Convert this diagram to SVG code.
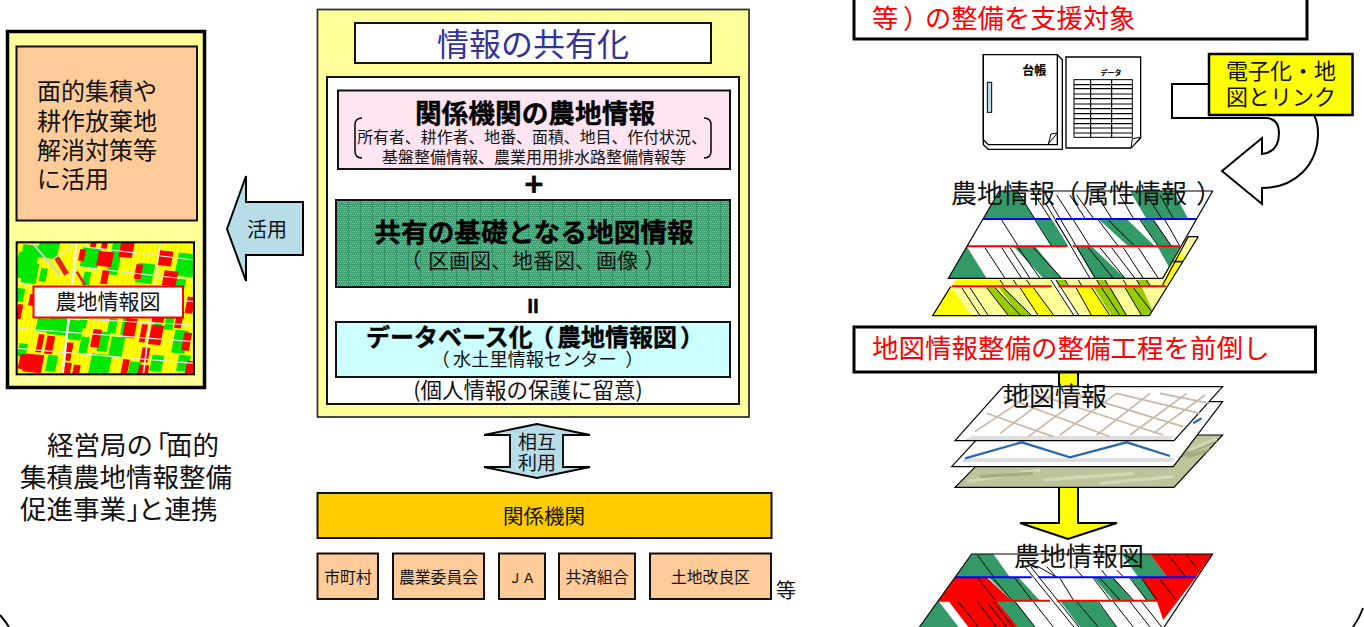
<svg xmlns="http://www.w3.org/2000/svg" width="1364" height="627" viewBox="0 0 1364 627">
<style>
text{font-family:"Noto Sans CJK JP","Noto Sans",sans-serif;fill:#111}
.b{font-weight:700;fill:#000;stroke:#000;stroke-width:.35}
.m{text-anchor:middle}
.p{font-feature-settings:"palt"}
.red{fill:#f00}
.box{stroke:#111;stroke-width:2}
.peach{fill:#FFCC99}
.ln{fill:none;stroke:#000;stroke-width:3}
.wh{fill:#fff;stroke:#000}
.dg{fill:#339966}.yl{fill:#ffff00}.ly{fill:#ffff99}.og{fill:#99cc00}.rd{fill:#f00}
.field rect{transform-box:fill-box;transform-origin:center;transform:skewY(6deg) skewX(-11deg)}
.f-r{fill:#f00;stroke:#f00;stroke-width:5}.f-g{fill:#00e800;stroke:#00e800;stroke-width:10}
.grid{fill:none;stroke:#c9b8a6;stroke-width:5}
.st{stroke:#000;stroke-width:3;fill:none}
</style>
<defs>
<pattern id="mesh" width="12" height="12" patternUnits="userSpaceOnUse">
<rect width="12" height="12" fill="#3f9f72"/>
<path d="M1 1h1v1h-1zM3 1h1v1h-1zM5 1h1v1h-1zM7 1h1v1h-1zM9 1h1v1h-1zM11 1h1v1h-1zM2 3h1v1h-1zM4 3h1v1h-1zM6 3h1v1h-1zM8 3h1v1h-1zM10 3h1v1h-1zM1 5h1v1h-1zM3 5h1v1h-1zM5 5h1v1h-1zM7 5h1v1h-1zM9 5h1v1h-1zM11 5h1v1h-1zM2 7h1v1h-1zM4 7h1v1h-1zM6 7h1v1h-1zM8 7h1v1h-1zM10 7h1v1h-1zM1 9h1v1h-1zM3 9h1v1h-1zM5 9h1v1h-1zM7 9h1v1h-1zM9 9h1v1h-1zM11 9h1v1h-1zM2 11h1v1h-1zM4 11h1v1h-1zM6 11h1v1h-1zM8 11h1v1h-1zM10 11h1v1h-1z" fill="#86c2a2"/>
<path d="M0 0h12M0 0v12" stroke="#2b8a5a" stroke-width="1"/>
</pattern>
<pattern id="parcels" width="14" height="50" patternUnits="userSpaceOnUse" patternTransform="skewX(-11)">
<path d="M0 0v50" stroke="#c9c000" stroke-width="1.500"/>
</pattern>
<filter id="soft" x="0" y="0" width="1" height="1"><feGaussianBlur stdDeviation="1.800"/></filter>
<clipPath id="mapClip"><rect x="20" y="22" width="532" height="396"/></clipPath>
<clipPath id="attrClip"><polygon points="238,48 878,48 728,310 85,310"/></clipPath>
<clipPath id="yelClip"><polygon points="190,185 835,185 688,422 38,422"/></clipPath>
<clipPath id="finalClip"><polygon points="215,552 938,552 780,790 45,790"/></clipPath>
<clipPath id="photoClip"><polygon points="320,195 968,195 822,352 165,352"/></clipPath>
</defs>

<g id="frame"><path class="ln" d="M0 615Q5 621 9 627M1363 608Q1359 619 1353 627" style="stroke-width:2"/></g>

<g id="left-panel">
<rect x="7.500" y="31.500" width="197" height="356" fill="#FFFF99" stroke="#000" stroke-width="3.500"/>
<rect x="16.500" y="46.500" width="180.500" height="174" class="peach box"/>
<text font-size="24"><tspan x="37" y="100">面的集積や</tspan><tspan x="37" y="129.500">耕作放棄地</tspan><tspan x="37" y="158.500">解消対策等</tspan><tspan x="37" y="187.500">に活用</tspan></text>
</g>

<g id="farm-map">
<rect x="16.500" y="241" width="177.500" height="133" fill="#ffff00"/>
<g transform="translate(10 235) scale(.3333)">
<g clip-path="url(#mapClip)">
<g filter="url(#soft)">
<rect x="20" y="22" width="532" height="396" fill="#ffff00"/>
<rect x="20" y="22" width="532" height="396" fill="url(#parcels)"/>
<g class="field">
<g class="f-g">
<rect x="40" y="35" width="40" height="50"/><rect x="90" y="25" width="50" height="40"/><rect x="25" y="55" width="18" height="70"/><rect x="220" y="42" width="42" height="50"/><rect x="300" y="65" width="22" height="50"/><rect x="385" y="90" width="40" height="50"/><rect x="505" y="60" width="45" height="60"/><rect x="500" y="135" width="20" height="30"/><rect x="42" y="90" width="35" height="50"/><rect x="225" y="115" width="10" height="30"/><rect x="25" y="165" width="12" height="30"/><rect x="95" y="105" width="10" height="30"/><rect x="310" y="30" width="22" height="32"/><rect x="120" y="245" width="50" height="50"/><rect x="180" y="260" width="32" height="50"/><rect x="85" y="255" width="30" height="30"/><rect x="305" y="310" width="30" height="50"/><rect x="270" y="295" width="20" height="50"/><rect x="495" y="290" width="30" height="60"/><rect x="245" y="362" width="50" height="55"/><rect x="362" y="385" width="25" height="30"/><rect x="428" y="365" width="25" height="40"/><rect x="508" y="365" width="25" height="40"/><rect x="115" y="365" width="20" height="40"/><rect x="340" y="255" width="15" height="40"/><rect x="215" y="235" width="12" height="40"/><rect x="440" y="240" width="12" height="30"/><rect x="300" y="255" width="15" height="35"/><rect x="470" y="250" width="15" height="30"/><rect x="30" y="330" width="15" height="30"/><rect x="215" y="310" width="15" height="40"/>
</g>
<g class="f-r">
<rect x="332" y="25" width="35" height="40"/><rect x="265" y="52" width="40" height="40"/><rect x="448" y="50" width="36" height="40"/><rect x="462" y="110" width="36" height="40"/><rect x="378" y="90" width="15" height="40"/><rect x="277" y="105" width="15" height="40"/><rect x="345" y="252" width="30" height="55"/><rect x="422" y="272" width="32" height="55"/><rect x="394" y="270" width="12" height="50"/><rect x="248" y="285" width="20" height="50"/><rect x="110" y="305" width="18" height="50"/><rect x="84" y="300" width="12" height="50"/><rect x="45" y="360" width="50" height="50"/><rect x="30" y="360" width="18" height="40"/><rect x="168" y="325" width="15" height="50"/><rect x="396" y="340" width="18" height="40"/><rect x="388" y="392" width="25" height="24"/><rect x="338" y="375" width="15" height="40"/><rect x="160" y="385" width="20" height="30"/><rect x="192" y="392" width="15" height="25"/><rect x="530" y="380" width="20" height="40"/><rect x="531" y="188" width="18" height="45"/><rect x="521" y="295" width="18" height="50"/><rect x="498" y="247" width="15" height="30"/><rect x="244" y="22" width="12" height="14"/><rect x="277" y="22" width="12" height="20"/><rect x="23" y="210" width="10" height="40"/><rect x="210" y="45" width="12" height="30"/><rect x="60" y="180" width="14" height="30"/><rect x="430" y="235" width="30" height="25"/>
</g>
</g>
<path d="M140 68l30 50" stroke="#e0202a" stroke-width="16" fill="none"/>
<path d="M200 110l25 40" stroke="#e0202a" stroke-width="8" fill="none"/>
<g fill="none" stroke="#e4e8e0" stroke-width="3.500">
<path d="M200 25L158 418" stroke-width="7" stroke="#f4f6f4"/>
<path d="M450 25L400 418" stroke-width="5"/>
<path d="M65 22L150 120" stroke-width="6" stroke="#c8d4d8"/>
<path d="M130 72L195 30"/>
<path d="M20 140L120 170M220 35L552 75M200 95L552 135M210 165L552 200M20 280L552 320M20 340L552 385M170 250L552 270"/>
</g>
</g>
</g>
<rect x="20" y="22" width="532" height="396" fill="none" stroke="#000" stroke-width="6"/>
</g>
<rect x="33.500" y="286.500" width="149.500" height="31" fill="#fff" stroke="#f00" stroke-width="2"/>
<text x="108" y="308.500" font-size="21" class="m">農地情報図</text>
</g>

<g id="katsuyo-arrow">
<polygon points="227,229 246,176 246,202 303,202 303,255 246,255 246,281" fill="#B7DEE8" stroke="#000" stroke-width="2"/>
<text x="267" y="236.500" font-size="20" class="m">活用</text>
</g>

<g id="left-caption">
<text font-size="26.500"><tspan x="47" y="455">経営局の</tspan><tspan class="p" x="156" y="455">「</tspan><tspan x="166" y="455">面的</tspan><tspan x="20" y="487">集積農地情報整備</tspan><tspan x="20" y="519">促進事業</tspan><tspan class="p" x="127" y="519">」</tspan><tspan x="138" y="519">と連携</tspan></text>
</g>

<g id="center-panel">
<rect x="317.500" y="9.500" width="431.500" height="407.500" fill="#FFFF99" stroke="#333" stroke-width="1.800"/>
<rect x="355" y="23" width="356" height="40" fill="#fff" class="box"/>
<text x="533" y="56" font-size="32" class="m" style="fill:#333399">情報の共有化</text>
<rect x="327" y="77" width="412" height="327" fill="#fff" class="box"/>
</g>

<g id="pink-box">
<rect x="338" y="90.500" width="392" height="78.500" fill="#FFE5F2" class="box"/>
<text x="535" y="123" font-size="26.700" class="m b">関係機関の農地情報</text>
<text x="532" y="143" font-size="15.900" class="m">所有者、耕作者、地番、面積、地目、作付状況、</text>
<text x="534" y="163" font-size="16" class="m">基盤整備情報、農業用用排水路整備情報等</text>
<path d="M362 118Q355 118 355 125V151Q355 158 362 158M704 118Q711 118 711 125V151Q711 158 704 158" fill="none" stroke="#000" stroke-width="1.500"/>
</g>
<text id="plus" x="534" y="196" font-size="32" class="m b">+</text>

<g id="green-box">
<rect x="336" y="200" width="394" height="87" fill="url(#mesh)" class="box"/>
<text x="534" y="242" font-size="26.700" class="m b">共有の基礎となる地図情報</text>
<text font-size="21" y="268"><tspan class="p" x="410" y="268">（</tspan><tspan x="428" y="268">区画図、地番図、画像</tspan><tspan class="p" x="645" y="268">）</tspan></text>
</g>
<text id="equals" x="533" y="313" font-size="21" class="m b" style="font-family:'Liberation Sans',sans-serif">II</text>

<g id="db-box">
<rect x="336" y="322" width="394" height="55" fill="#CCFFFF" class="box"/>
<text font-size="24" class="b"><tspan x="366" y="346">データベース化</tspan><tspan class="p" x="541" y="346">（</tspan><tspan x="557" y="346">農地情報図</tspan><tspan class="p" x="681" y="346">）</tspan></text>
<text font-size="18.200"><tspan class="p" x="440" y="366">（</tspan><tspan x="453" y="366">水土里情報センター</tspan><tspan class="p" x="626" y="366">）</tspan></text>
</g>
<text id="privacy" x="528" y="398" font-size="21.500" class="m">(個人情報の保護に留意)</text>

<g id="connectors">
<polygon points="537,424 484,435 510,435 510,467 484,467 537,478 590,467 563,467 563,435 590,435" fill="#B7DEE8" stroke="#000" stroke-width="1.800"/>
<path d="M1172 84V118H1265Q1279 118 1279 133Q1279 152 1262 154V138L1222 171L1262 204V188C1295 188 1318 165 1318 133Q1318 123 1314 115H1209V84Z" fill="#fff" stroke="#000" stroke-width="2"/>
<polygon points="1059,372 1078,372 1078,523 1117,523 1068,539 1020,523 1059,523" class="yl" stroke="#000" stroke-width="2"/>
</g>
<text id="sogo" font-size="19" class="m"><tspan x="537" y="449">相互</tspan><tspan x="537" y="470">利用</tspan></text>

<g id="agencies">
<rect x="317.500" y="493" width="454" height="45" fill="#FFCC00" class="box"/>
<text x="544" y="524" font-size="20.500" class="m">関係機関</text>
</g>
<g id="n-shi"><rect x="317.500" y="553.500" width="60.500" height="45.500" class="peach box"/><text x="348" y="583" font-size="15.800" class="m">市町村</text></g>
<g id="n-nogyo"><rect x="393" y="553.500" width="91" height="45.500" class="peach box"/><text x="438.500" y="583" font-size="15.800" class="m">農業委員会</text></g>
<g id="n-ja"><rect x="499" y="553.500" width="46" height="45.500" class="peach box"/><text x="522" y="583" font-size="13.500" class="m">ＪＡ</text></g>
<g id="n-kyosai"><rect x="559" y="553.500" width="76" height="45.500" class="peach box"/><text x="597" y="583" font-size="15.800" class="m">共済組合</text></g>
<g id="n-tochi"><rect x="650" y="553.500" width="121" height="45.500" class="peach box"/><text x="710.500" y="583" font-size="15.800" class="m">土地改良区</text></g>
<text id="etc" x="776" y="598" font-size="20">等</text>

<g id="top-note">
<rect x="854" y="-4" width="453" height="43" fill="#fff" stroke="#000" stroke-width="3"/>
<text font-size="26.300" class="red"><tspan x="872" y="28">等</tspan><tspan class="p" x="904" y="28">）</tspan><tspan x="925" y="28">の整備を支援対象</tspan></text>
</g>

<g id="ledger" transform="translate(975 48) scale(.3333)">
<polygon points="25,20 247,20 262,35 262,304 40,304 25,290" class="wh" style="stroke-width:4"/>
<path d="M247 20V290H40L25 275V20H247" fill="#fff" stroke="#000" stroke-width="4"/>
<rect x="37" y="103" width="13" height="90" fill="#B7DEE8" stroke="#000" stroke-width="3"/>
<path d="M220 288L247 255L228 258Z" fill="#fff" stroke="#000" stroke-width="3"/>
<text x="178" y="82" font-size="36" class="m b">台帳</text>
<path d="M273 27H497V270L468 300H273Z" fill="#fff" stroke="#000" stroke-width="4"/>
<path d="M468 300L497 268L472 272Z" fill="#fff" stroke="#000" stroke-width="3"/>
<text x="408" y="80" font-size="21" class="m b">データ</text>
<rect x="297" y="95" width="175" height="173" fill="#fff" stroke="#000" stroke-width="3"/>
<path d="M297 110H472M297 122H472M297 138H472M297 152H472M297 168H472M297 182H472M297 197H472M297 212H472M297 227H472M297 240H472M297 255H472M347 95V268M410 95V268" stroke="#000" stroke-width="3.500" fill="none"/>
</g>

<g id="digitize">
<rect x="1209" y="54" width="143.500" height="61" class="yl" stroke="#000" stroke-width="2.500"/>
<text font-size="22"><tspan x="1226" y="79">電子化・地</tspan><tspan x="1226" y="105">図とリンク</tspan></text>
</g>

<g id="attr-stack" transform="translate(920 175) scale(.3333)">
<g id="yellow-layer">
<polygon points="190,185 835,185 688,422 38,422" class="ly"/>
<g clip-path="url(#yelClip)">
<polygon points="92,335 38,422 155,422" class="yl"/>
<polygon points="200,335 225,335 302,422 265,422" class="og"/><polygon points="235,335 250,335 335,422 300,422" class="og"/>
<polygon points="300,335 340,335 402,422 355,422" class="yl"/>
<polygon points="468,335 515,335 570,422 515,422" class="yl"/>
<polygon points="520,335 570,335 620,422 575,422" class="og"/>
<polygon points="615,335 665,335 695,400 690,422 665,422" class="og"/>
<polygon points="405,315 435,315 440,332 420,332" class="og"/><polygon points="530,315 555,315 565,332 540,332" class="og"/><polygon points="650,315 680,315 690,332 660,332" class="og"/>
<polygon points="100,315 240,315 242,332 90,332" class="yl"/>
<polygon points="770,225 795,245 770,295 745,295" class="yl"/>
<polygon points="728,330 745,295 770,295 740,330" class="yl"/>
<path class="st" d="M150 338L205 422M125 338L180 422M200 338L265 422M225 338L302 422M250 338L335 422M300 338L355 422M340 338L402 422M468 338L515 422M515 338L570 422M545 338L600 422M570 338L620 422M615 338L665 422M640 338L695 410M240 315L250 330M280 315L290 330M320 315L330 330M405 315L420 332M435 315L445 332M475 315L485 332M530 315L540 332M555 315L565 332M610 315L620 332M650 315L660 332M680 315L690 332"/>
<path d="M400 315L470 422" stroke="#fff" stroke-width="11"/><path class="st" d="M393 315L462 422M408 315L477 422"/>
<path d="M92 334H395M415 334H738" stroke="#f00" stroke-width="6"/>
<path d="M760 260H790" stroke="#00f" stroke-width="5"/>
</g>
<path d="M835 185H805L728 330M92 335L38 422H688L835 185" fill="none" stroke="#000" stroke-width="3.500"/>
</g>
<g id="green-layer">
<polygon points="238,48 878,48 728,310 85,310" fill="#fff"/>
<g clip-path="url(#attrClip)">
<polygon points="238,48 292,48 345,132 185,132" class="dg"/>
<polygon points="630,48 760,48 805,132 680,132" class="dg"/>
<polygon points="345,132 395,132 445,214 395,214" class="dg"/>
<polygon points="535,132 620,132 705,214 625,214" class="dg"/>
<polygon points="660,132 700,132 755,214 715,214" class="dg"/>
<polygon points="140,214 85,310 200,310" class="dg"/>
<polygon points="280,214 345,214 425,310 370,310" class="dg"/>
<polygon points="458,214 515,214 615,310 520,310" class="dg"/>
<polygon points="712,214 780,214 735,300 755,290" class="dg"/>
<path class="st" d="M245 135L295 214M345 135L395 214M292 48L345 132M345 60L390 130M405 135L455 214M460 135L510 214M535 135L595 214M565 135L645 214M660 135L715 214M700 135L755 214M735 135L780 214M410 60L455 130M450 60L495 130M470 60L520 130M530 60L575 130M600 60L640 130M680 60L725 130M720 60L760 130M195 218L255 310M245 218L305 310M270 218L330 310M295 218L360 310M340 218L425 310M505 218L580 310M540 218L615 310M575 218L645 310M610 218L670 310M655 218L715 310"/>
<path d="M385 85L518 310" stroke="#fff" stroke-width="10"/><path class="st" d="M377 85L510 310M393 85L526 310"/>
<path d="M183 132H392M408 132H835" stroke="#00f" stroke-width="6"/>
<path d="M135 214H442M458 214H780" stroke="#f00" stroke-width="6"/>
</g>
<polygon points="238,48 878,48 728,310 85,310" fill="none" stroke="#000" stroke-width="3.500"/>
</g>
</g>
<text id="attr-label" font-size="26"><tspan x="951" y="203">農地情報</tspan><tspan class="p" x="1066" y="203">（</tspan><tspan x="1083" y="203">属性情報</tspan><tspan class="p" x="1197" y="203">）</tspan></text>

<g id="map-note">
<rect x="854" y="327" width="461.500" height="45" fill="#fff" stroke="#000" stroke-width="3"/>
<text x="872" y="358" font-size="26.500" class="red">地図情報整備の整備工程を前倒し</text>
</g>

<g id="map-stack" transform="translate(900 370) scale(.3333)">
<polygon points="320,195 968,195 822,352 165,352" fill="#BDC49A" stroke="#000" stroke-width="3.500"/>
<g clip-path="url(#photoClip)" fill="none" stroke-width="10">
<path d="M200 335L420 300M430 330L700 310M600 340L820 320" stroke="#D2D6B4"/>
<path d="M240 320L400 310M820 270L950 210M860 260L950 235" stroke="#A3AC80"/>
<path d="M870 240L950 205" stroke="#D2D6B4"/>
</g>
<polygon points="335,95 968,95 820,290 155,290" fill="#fff" stroke="#000" stroke-width="3.500"/>
<polygon points="195,265 825,265 815,276 185,276" fill="#dedede"/>
<path d="M195 265L365 217L510 262L680 217L810 258M880 160L905 145" fill="none" stroke="#2C68B0" stroke-width="7"/>
<polygon points="310,50 968,50 822,212 165,212" fill="#fff" stroke="#000" stroke-width="3.500"/>
<polygon points="215,198 825,198 812,210 195,210" fill="#dedede"/>
<path class="grid" d="M225 185L390 75M300 190L460 70M385 200L560 70M480 195L650 70M590 195L750 70M690 195L860 70M760 190L915 75M260 130L460 200M310 80L630 200M400 70L790 195M520 70L850 170M650 70L900 130M780 70L930 100"/>
</g>
<text id="map-label" x="1003" y="406" font-size="26">地図情報</text>

<g id="final-stack" transform="translate(900 370) scale(.3333)">
<polygon points="215,552 938,552 780,790 45,790" fill="#fff"/>
<g clip-path="url(#finalClip)">
<polygon points="215,552 280,552 330,622 165,622" class="dg"/>
<polygon points="665,552 750,552 802,622 715,622" class="dg"/>
<polygon points="750,552 938,552 888,622 802,622" class="rd"/>
<polygon points="165,622 260,622 335,692 115,692" class="rd"/>
<polygon points="265,622 355,622 420,692 335,692" class="dg"/>
<polygon points="580,622 640,622 700,692 640,692" class="dg"/>
<polygon points="690,622 725,622 775,692 740,692" class="dg"/>
<polygon points="725,622 888,622 790,750 770,692" class="rd"/>
<polygon points="115,692 45,790 190,790" class="dg"/>
<polygon points="145,692 290,692 355,771 205,771" class="rd"/>
<polygon points="290,692 345,692 405,771 352,771" class="dg"/>
<polygon points="480,692 530,692 595,771 540,771" class="dg"/>
<polygon points="530,692 590,692 650,771 595,771" class="dg"/>
<path class="st" d="M232 555L282 622M805 555L858 622M860 555L895 600M235 625L285 690M280 625L335 690M345 625L395 690M415 590L470 622M440 590L470 622M520 590L550 622M480 625L520 690M580 625L630 690M600 625L660 690M640 625L700 690M690 625L740 690M725 625L770 690M780 628L828 690M605 600L620 620M650 600L670 620M175 695L235 771M232 695L290 771M260 695L320 771M280 695L340 771M345 695L405 771M400 695L460 771M530 695L595 771M595 695L650 771M640 695L700 771M690 695L750 771M725 695L785 771"/>
<path d="M383 590L532 775" stroke="#fff" stroke-width="12"/><path class="st" d="M375 590L525 775M392 590L540 775"/>
<path d="M165 622H395M415 622H888" stroke="#00f" stroke-width="6"/>
<path d="M115 692H450M470 692H772" stroke="#f00" stroke-width="6"/>
</g>
<path d="M45 790L215 552H938L780 790" fill="none" stroke="#000" stroke-width="3.500"/>
</g>
<text id="final-label" x="1014" y="566" font-size="26">農地情報図</text>
</svg>
